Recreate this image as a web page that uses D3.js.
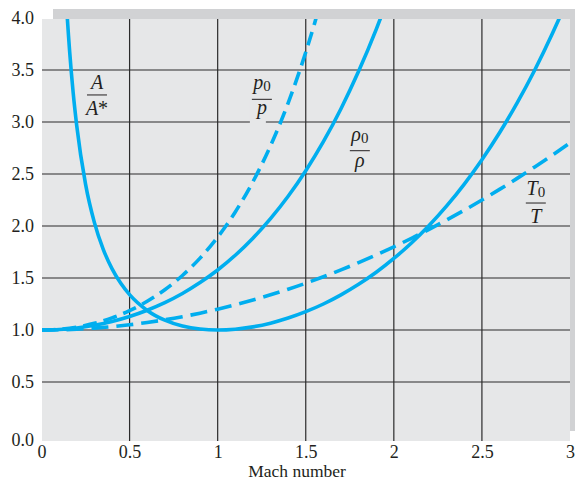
<!DOCTYPE html>
<html>
<head>
<meta charset="utf-8">
<script src="https://cdn.jsdelivr.net/npm/d3@7"></script>
<style>
  html, body { margin: 0; padding: 0; background: #ffffff; }
  svg { display: block; }
</style>
</head>
<body>
<script>
// ---------------- data ----------------
const xTickValues = [0, 0.5, 1, 1.5, 2, 2.5, 3];
const xTickLabels = ["0", "0.5", "1", "1.5", "2", "2.5", "3"];
const yTickValues = [0, 0.5, 1, 1.5, 2, 2.5, 3, 3.5, 4];
const yTickLabels = ["0.0", "0.5", "1.0", "1.5", "2.0", "2.5", "3.0", "3.5", "4.0"];
const xTitle = "Mach number";

// T0/T (dashed)
const machT = [0,0.1,0.2,0.3,0.4,0.5,0.6,0.7,0.8,0.9,1.0,1.1,1.2,1.3,1.4,1.5,1.6,1.7,1.8,1.9,2.0,2.1,2.2,2.3,2.4,2.5,2.6,2.7,2.8,2.9,3.0];
const tempRatio = [1.000,1.002,1.008,1.018,1.032,1.050,1.072,1.098,1.128,1.162,1.200,1.242,1.288,1.338,1.392,1.450,1.512,1.578,1.648,1.722,1.800,1.882,1.968,2.058,2.152,2.250,2.352,2.458,2.568,2.682,2.800];

// p0/p (dashed)
const machP = [0,0.1,0.2,0.3,0.4,0.5,0.6,0.7,0.8,0.9,1.0,1.1,1.2,1.3,1.4,1.5,1.55,1.6];
const pressRatio = [1.000,1.007,1.028,1.064,1.117,1.186,1.276,1.387,1.524,1.691,1.893,2.135,2.425,2.771,3.182,3.671,3.948,4.250];

// rho0/rho (solid)
const machR = [0,0.1,0.2,0.3,0.4,0.5,0.6,0.7,0.8,0.9,1.0,1.1,1.2,1.3,1.4,1.5,1.6,1.7,1.8,1.9,1.95];
const densRatio = [1.000,1.005,1.020,1.046,1.082,1.130,1.190,1.263,1.351,1.456,1.577,1.719,1.883,2.071,2.286,2.532,2.811,3.128,3.487,3.891,4.112];

// A/A* (solid)
const machA = [0.12,0.14,0.16,0.18,0.2,0.25,0.3,0.35,0.4,0.45,0.5,0.6,0.7,0.8,0.9,1.0,1.1,1.2,1.3,1.4,1.5,1.6,1.7,1.8,1.9,2.0,2.1,2.2,2.3,2.4,2.5,2.6,2.7,2.8,2.9,2.95];
const areaRatio = [4.864,4.182,3.673,3.278,2.964,2.403,2.035,1.778,1.590,1.449,1.340,1.188,1.094,1.038,1.009,1.000,1.008,1.030,1.066,1.115,1.176,1.250,1.338,1.439,1.555,1.688,1.837,2.005,2.193,2.403,2.637,2.896,3.183,3.500,3.850,4.038];

// curve label anchors (in data units: Mach, ratio at fraction bar)
const labelMach  = [0.315, 1.251, 1.807, 2.806];
const labelValue = [3.26, 3.218, 2.724, 2.221];

// ---------------- drawing ----------------
const W = 575, H = 484;
const plotL = 42, plotR = 570, plotT = 19, plotB = 441;
const curveColor = "#00aeef";
const gridColor = "#2b2b2b";
const serif = "'Liberation Serif', 'Times New Roman', serif";

const svg = d3.select("body").append("svg").attr("width", W).attr("height", H);

const x = d3.scaleLinear().domain([0, 3]).range([41.5, 570]);
const y = d3.scaleLinear().domain([0, 4]).range([434, 18]);

// shadow + plot background
svg.append("rect").attr("x", plotL + 11).attr("y", plotT - 10)
  .attr("width", plotR - plotL).attr("height", plotB - plotT)
  .attr("fill", "#d1d2d4");
svg.append("rect").attr("x", plotL).attr("y", plotT)
  .attr("width", plotR - plotL).attr("height", plotB - plotT)
  .attr("fill", "#e6e7e8");

// grid
const grid = svg.append("g");
grid.selectAll("line.v").data(xTickValues.filter(v => v > 0 && v < 3)).join("line")
  .attr("x1", d => x(d)).attr("x2", d => x(d)).attr("y1", plotT).attr("y2", plotB)
  .attr("stroke", gridColor).attr("stroke-width", 1.2);
grid.selectAll("line.h").data(yTickValues.filter(v => v > 0 && v < 4)).join("line")
  .attr("x1", plotL).attr("x2", plotR).attr("y1", d => y(d)).attr("y2", d => y(d))
  .attr("stroke", gridColor).attr("stroke-width", 1.2);

// axes
const xAxis = d3.axisBottom(x).tickValues(xTickValues).tickSize(0).tickPadding(4.5)
  .tickFormat((d, i) => xTickLabels[i]);
const gx = svg.append("g").attr("transform", `translate(0,${plotB})`).call(xAxis);
gx.select(".domain").remove();
gx.selectAll("text").attr("font-family", serif).attr("font-size", 18).attr("fill", "#231f20");

const yAxis = d3.axisLeft(y).tickValues(yTickValues).tickSize(0).tickPadding(8)
  .tickFormat((d, i) => yTickLabels[i]);
const gy = svg.append("g").attr("transform", `translate(${plotL},0)`).call(yAxis);
gy.select(".domain").remove();
gy.selectAll("text").attr("font-family", serif).attr("font-size", 18).attr("fill", "#231f20");
gy.selectAll(".tick").filter(d => d === 0).select("text").attr("y", 6);

svg.append("text").attr("x", 297).attr("y", 477).attr("text-anchor", "middle")
  .attr("font-family", serif).attr("font-size", 17.5).attr("fill", "#231f20")
  .text(xTitle);

// curve labels
const labels = svg.append("g").attr("font-family", serif).attr("fill", "#231f20");
function fraction(i, numParts, denParts, numOff, denOff, opts = {}) {
  const cx = x(labelMach[i]), by = y(labelValue[i]);
  if (opts.bg) {
    labels.append("rect").attr("x", cx - 12).attr("y", by + 1).attr("width", 16).attr("height", 24)
      .attr("fill", "#e6e7e8");
  }
  const mk = (parts, yy) => {
    const t = labels.append("text").attr("x", cx).attr("y", yy).attr("text-anchor", "middle").attr("font-size", 20);
    parts.forEach(p => {
      const ts = t.append("tspan").text(p.t);
      if (p.it) ts.attr("font-style", "italic");
      if (p.sub) ts.attr("font-size", 15).attr("dy", 2);
    });
  };
  mk(numParts, by - numOff);
  labels.append("line").attr("x1", cx - 10).attr("x2", cx + 10).attr("y1", by).attr("y2", by)
    .attr("stroke", "#231f20").attr("stroke-width", 1);
  mk(denParts, by + denOff);
}
fraction(0, [{t: "A", it: true}], [{t: "A", it: true}, {t: "*"}], 6, 20);
fraction(1, [{t: "p", it: true}, {t: "0", sub: true}], [{t: "p", it: true}], 10, 15, {bg: true});
fraction(2, [{t: "ρ", it: true}, {t: "0", sub: true}], [{t: "ρ", it: true}], 10, 16);
fraction(3, [{t: "T", it: true}, {t: "0", sub: true}], [{t: "T", it: true}], 8, 20);

// curves
svg.append("clipPath").attr("id", "clip").append("rect")
  .attr("x", plotL).attr("y", plotT).attr("width", plotR - plotL).attr("height", plotB - plotT);
const curves = svg.append("g").attr("clip-path", "url(#clip)");
const line = d3.line().x(d => x(d[0])).y(d => y(d[1])).curve(d3.curveMonotoneX);
const series = [
  {m: machA, v: areaRatio, dash: null},
  {m: machR, v: densRatio, dash: null},
  {m: machP, v: pressRatio, dash: "14,7"},
  {m: machT, v: tempRatio, dash: "17,8"}
];
series.forEach(s => {
  curves.append("path").datum(s.m.map((m, i) => [m, s.v[i]]))
    .attr("d", line).attr("fill", "none").attr("stroke", curveColor)
    .attr("stroke-width", 3.6).attr("stroke-dasharray", s.dash);
});
</script>
</body>
</html>
